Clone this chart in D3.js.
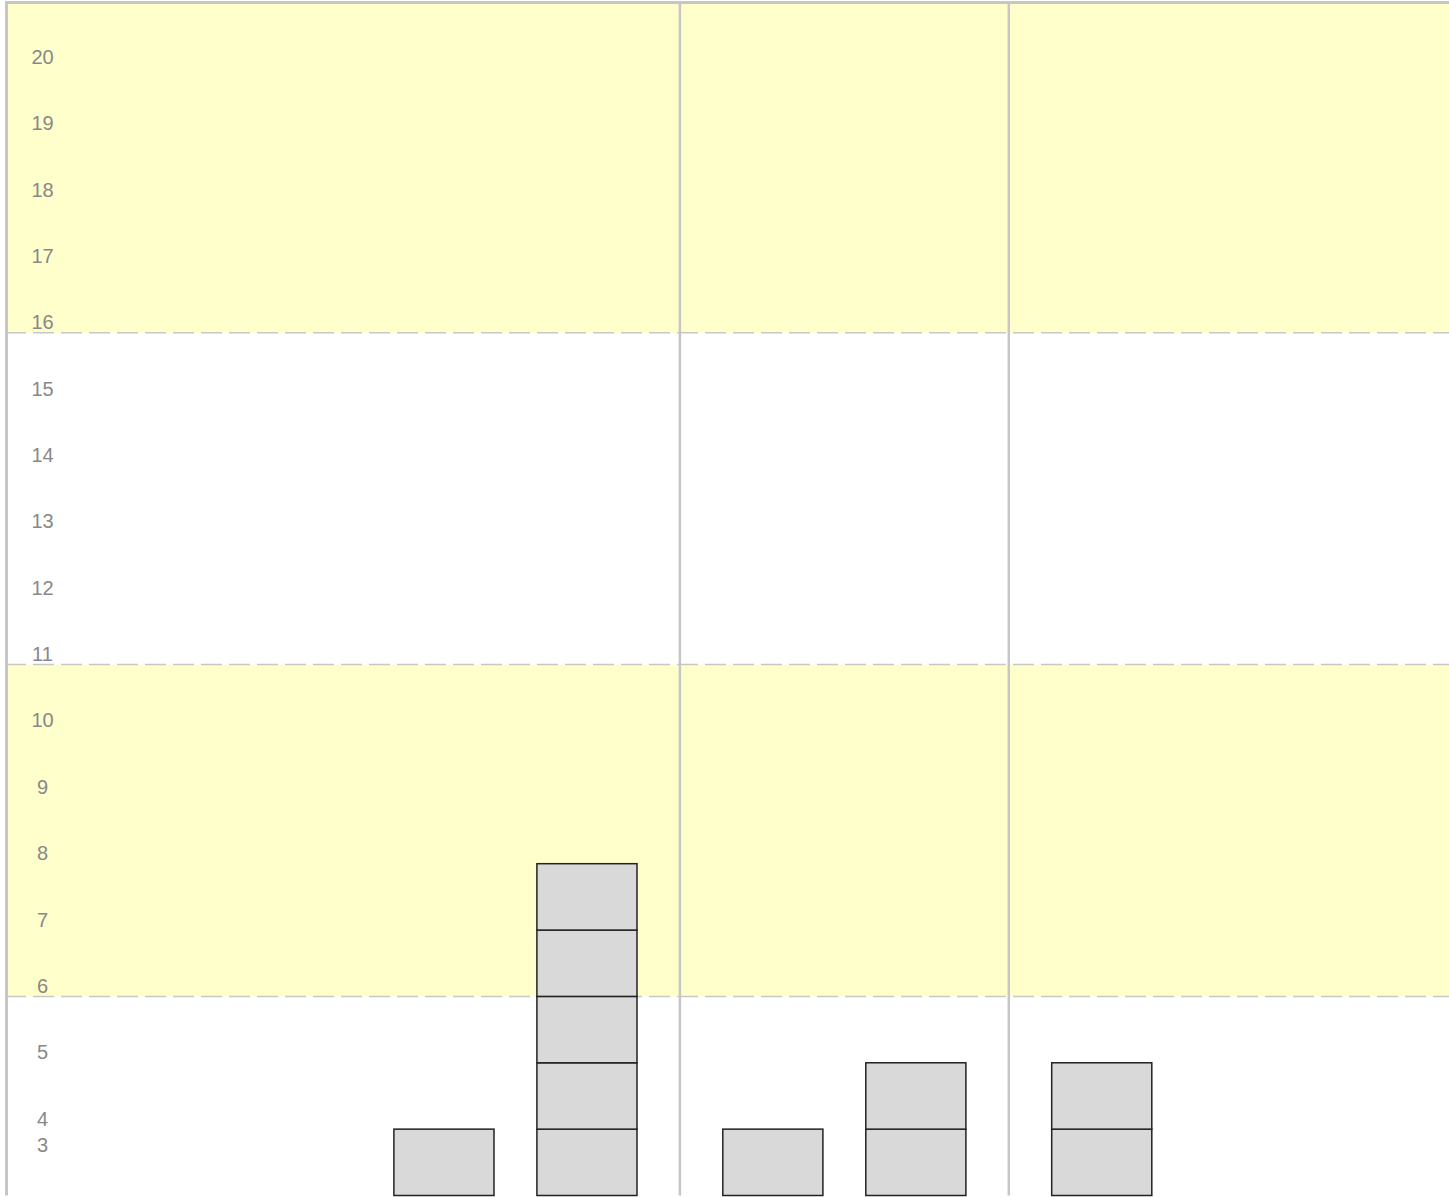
<!DOCTYPE html>
<html>
<head>
<meta charset="utf-8">
<script src="https://cdn.jsdelivr.net/npm/d3@7/dist/d3.min.js"></script>
<style>
  html, body { margin: 0; padding: 0; background: #fff; overflow: hidden; }
  svg { display: block; }
</style>
</head>
<body>
<svg id="chart" width="1449" height="1197"></svg>
<script>
// Stacked unit blocks per slot, slots grouped into columns.
const groupNames = ["Group 1", "Group 2", "Group 3"];
const group1Values = [0, 0, 1, 5];
const group2Values = [1, 2];
const group3Values = [2, 0, 0];
const groupValues = [group1Values, group2Values, group3Values];

// Row labels on the left and the alternating horizontal bands.
const rowLabels = [20, 19, 18, 17, 16, 15, 14, 13, 12, 11, 10, 9, 8, 7, 6, 5, 4, 3];
const bandStarts = [6, 16];          // shaded bands, each 5 rows tall
const bandSize = 5;
const bandLines = [6, 11, 16];       // dashed separators
const baseRow = 3;
const topRow = 21;

const W = 1449, H = 1197;
const plotLeft = 7, plotTop = 1, plotBottom = 1195.5;
const gutter = 58;                   // room for row labels
const slotStep = 143;
const slotPad = 0.3;

const svg = d3.select("#chart");

const y = d3.scaleLinear().domain([baseRow, topRow]).range([plotBottom, plotTop]);

// Column extents: each column is n slots plus outer padding.
let cursor = plotLeft + gutter;
const groups = groupNames.map((name, i) => {
  const n = groupValues[i].length;
  const width = slotStep * (n - slotPad + 2 * slotPad);
  const x = d3.scaleBand()
    .domain(d3.range(n))
    .range([cursor, cursor + width])
    .paddingInner(slotPad)
    .paddingOuter(slotPad);
  const g = { name, values: groupValues[i], x, x0: cursor, x1: cursor + width };
  cursor += width;
  return g;
});

// Shaded bands
svg.append("g").selectAll("rect")
  .data(bandStarts)
  .join("rect")
  .attr("x", plotLeft)
  .attr("width", W - plotLeft)
  .attr("y", d => y(Math.min(d + bandSize, topRow)))
  .attr("height", d => y(d) - y(Math.min(d + bandSize, topRow)))
  .attr("fill", "#ffffcc");

// Dashed band separators
svg.append("g").selectAll("line")
  .data(bandLines)
  .join("line")
  .attr("x1", 5).attr("x2", W)
  .attr("y1", d => y(d)).attr("y2", d => y(d))
  .attr("stroke", "#c8c8c8")
  .attr("stroke-width", 1.5)
  .attr("stroke-dasharray", "21,7");

// Column separators
svg.append("g").selectAll("line")
  .data(groups.slice(1))
  .join("line")
  .attr("x1", d => d.x0).attr("x2", d => d.x0)
  .attr("y1", plotTop).attr("y2", plotBottom)
  .attr("stroke", "#c6c6c6")
  .attr("stroke-width", 2.5);

// Unit blocks
const blocks = [];
groups.forEach(g => {
  g.values.forEach((v, i) => {
    for (let k = 0; k < v; k++) blocks.push({ g, i, k });
  });
});
svg.append("g").selectAll("rect")
  .data(blocks)
  .join("rect")
  .attr("x", d => d.g.x(d.i))
  .attr("width", d => d.g.x.bandwidth())
  .attr("y", d => y(baseRow + d.k + 1))
  .attr("height", d => y(baseRow + d.k) - y(baseRow + d.k + 1))
  .attr("fill", "#d9d9d9")
  .attr("stroke", "#222")
  .attr("stroke-width", 1.5);

// Row labels
const labelMaxY = y(baseRow) - 43.5;
svg.append("g").selectAll("text")
  .data(rowLabels)
  .join("text")
  .attr("x", plotLeft + 35.5)
  .attr("y", d => Math.min(y(d) - 3.5, labelMaxY))
  .attr("text-anchor", "middle")
  .attr("font-family", "'Liberation Sans', Arial, sans-serif")
  .attr("font-size", 20)
  .attr("fill", "#888")
  .text(d => d);

// Frame (left and top edges)
svg.append("line")
  .attr("x1", plotLeft - 0.5).attr("x2", plotLeft - 0.5)
  .attr("y1", 1).attr("y2", plotBottom)
  .attr("stroke", "#c6c6c6").attr("stroke-width", 3);
svg.append("line")
  .attr("x1", plotLeft - 2).attr("x2", W)
  .attr("y1", 2.5).attr("y2", 2.5)
  .attr("stroke", "#c6c6c6").attr("stroke-width", 3);
</script>
</body>
</html>
